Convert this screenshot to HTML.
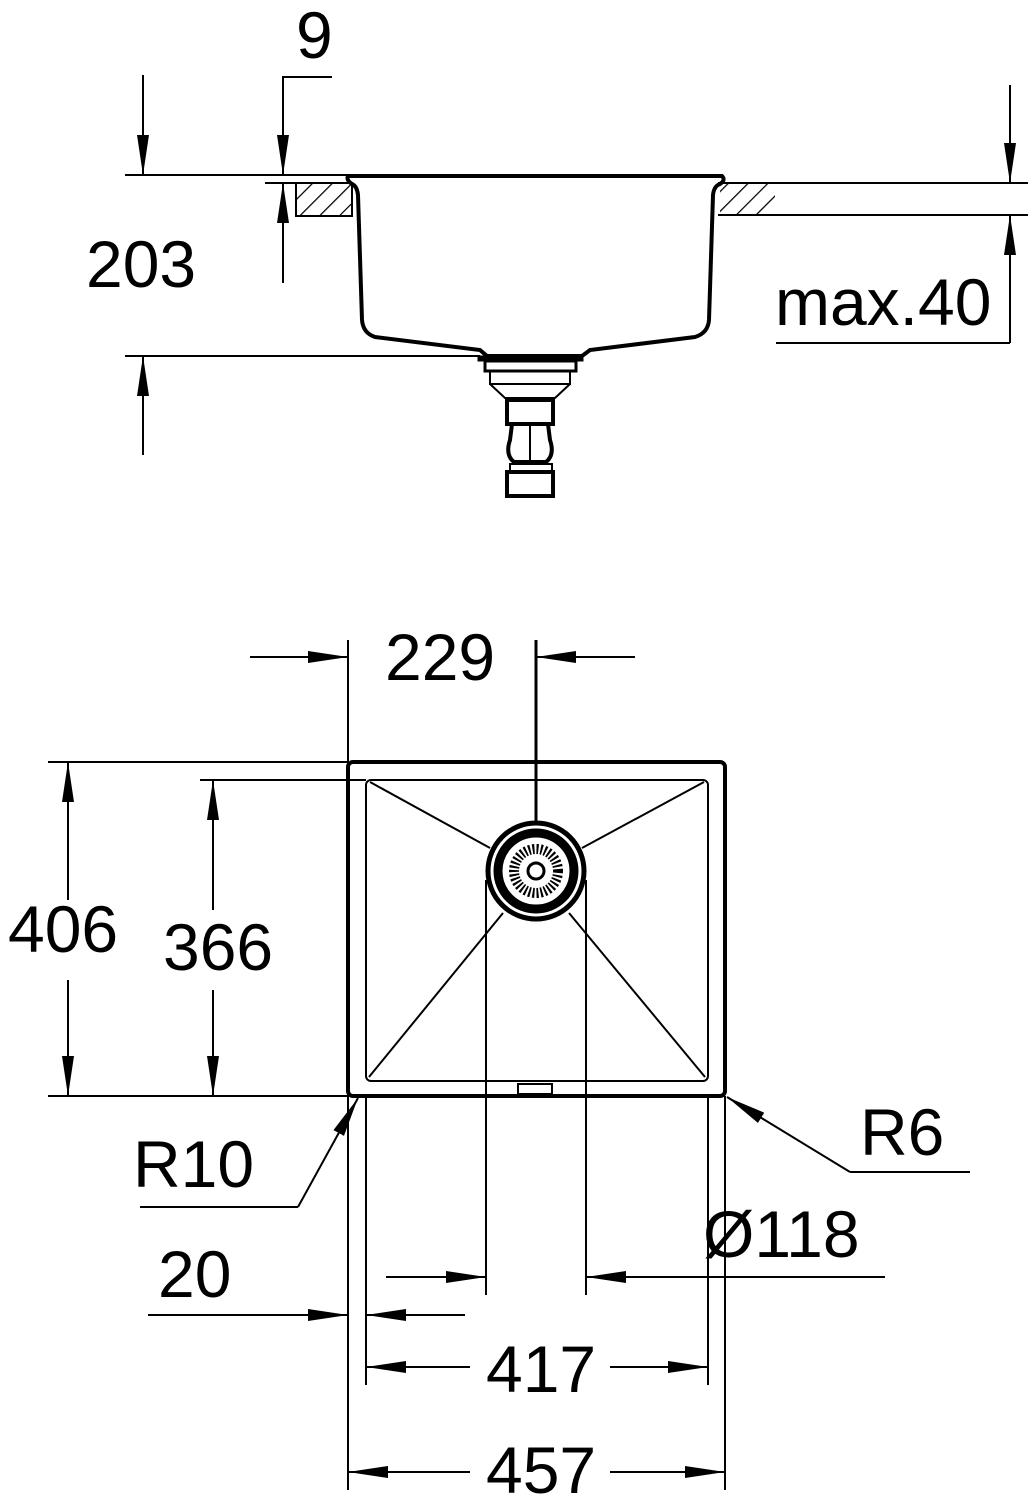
<!DOCTYPE html>
<html><head><meta charset="utf-8"><style>
html,body{margin:0;padding:0;background:#fff;}
svg{display:block;}
text{font-family:"Liberation Sans",sans-serif;font-size:66px;fill:#000;}
</style></head><body>
<svg width="1030" height="1500" viewBox="0 0 1030 1500" xmlns="http://www.w3.org/2000/svg">
<defs>
<marker id="a" markerWidth="40" markerHeight="14" refX="40" refY="7" orient="auto" markerUnits="userSpaceOnUse" viewBox="0 0 40 14">
<path d="M0,1 L40,7 L0,13 Z" fill="#000"/></marker>
<pattern id="h" width="14" height="14" patternUnits="userSpaceOnUse" patternTransform="rotate(45)">
<line x1="0" y1="0" x2="0" y2="14" stroke="#000" stroke-width="2.5"/></pattern>
</defs>
<g stroke="#000" fill="none" stroke-width="2">
<!-- TOP SECTION -->
<line x1="125" y1="175" x2="352" y2="175"/>
<line x1="265" y1="183" x2="352" y2="183"/>
<rect x="296" y="183" width="56" height="33" fill="url(#h)"/>
<line x1="296" y1="216" x2="352" y2="216"/>
<line x1="718" y1="183" x2="1028" y2="183"/>
<line x1="718" y1="215" x2="1028" y2="215"/>
<rect x="720" y="184" width="55" height="30" fill="url(#h)" stroke="none"/>
<line x1="143" y1="75" x2="143" y2="175" marker-end="url(#a)"/>
<line x1="143" y1="455" x2="143" y2="356" marker-end="url(#a)"/>
<line x1="125" y1="356" x2="480" y2="356"/>
<polyline points="332,77 283,77 283,175"/>
<line x1="283" y1="77" x2="283" y2="175" marker-end="url(#a)"/>
<line x1="283" y1="283" x2="283" y2="183" marker-end="url(#a)"/>
<line x1="1010" y1="85" x2="1010" y2="183" marker-end="url(#a)"/>
<line x1="1010" y1="343" x2="1010" y2="215" marker-end="url(#a)"/>
<line x1="776" y1="343" x2="1010" y2="343"/>
<!-- sink profile -->
<path d="M348,176 L722,176 Q726,180 720,184 Q714,186 713,195 L709,320 Q708,333 695,337 L590,350 L582,356 L487,356 L480,350 L375,337 Q363,333 362,320 L358,195 Q357,186 352,184 Q346,180 348,176 Z" stroke-width="4"/>
<!-- drain -->
<rect x="478" y="356" width="105" height="5" fill="#000" stroke-width="1"/>
<rect x="485" y="361" width="91" height="10" stroke-width="3"/>
<rect x="490" y="371" width="80" height="13" stroke-width="2"/>
<path d="M490,384 L505,398 L555,398 L570,384" stroke-width="2"/>
<rect x="507" y="400" width="46" height="24" stroke-width="4"/>
<path d="M512,424 L510,440 Q505,455 514,462 L546,462 Q555,455 550,440 L548,424" stroke-width="4"/>
<line x1="530" y1="424" x2="530" y2="462"/>
<rect x="510" y="464" width="42" height="8" stroke-width="2"/>
<rect x="507" y="472" width="46" height="24" stroke-width="4"/>

<!-- TOP VIEW -->
<rect x="348" y="762" width="377" height="334" rx="5" stroke-width="4"/>
<rect x="366" y="780" width="342" height="301" rx="5" stroke-width="2"/>
<line x1="370" y1="782" x2="490" y2="848"/>
<line x1="704" y1="782" x2="582" y2="848"/>
<line x1="369" y1="1077" x2="503" y2="913"/>
<line x1="705" y1="1077" x2="569" y2="913"/>
<rect x="518" y="1084" width="34" height="10" stroke-width="2"/>
<line x1="486" y1="880" x2="486" y2="1295"/>
<line x1="586" y1="880" x2="586" y2="1295"/>
<circle cx="536" cy="871" r="48" stroke-width="5"/>
<circle cx="536" cy="871" r="38" stroke-width="9"/>
<circle cx="536" cy="871" r="22" stroke-width="10" stroke-dasharray="2 2"/>
<circle cx="536" cy="871" r="8" stroke-width="3"/>
<line x1="536" y1="640" x2="536" y2="822" stroke-width="3"/>
<line x1="348" y1="640" x2="348" y2="1490"/>
<line x1="725" y1="1096" x2="725" y2="1490"/>
<line x1="366" y1="1096" x2="366" y2="1385"/>
<line x1="708" y1="1096" x2="708" y2="1385"/>
<line x1="250" y1="657" x2="348" y2="657" marker-end="url(#a)"/>
<line x1="635" y1="657" x2="536" y2="657" marker-end="url(#a)"/>
<line x1="48" y1="762" x2="348" y2="762"/>
<line x1="48" y1="1096" x2="348" y2="1096"/>
<line x1="200" y1="780" x2="366" y2="780"/>
<line x1="68" y1="900" x2="68" y2="762" marker-end="url(#a)"/>
<line x1="68" y1="980" x2="68" y2="1096" marker-end="url(#a)"/>
<line x1="213" y1="910" x2="213" y2="780" marker-end="url(#a)"/>
<line x1="213" y1="990" x2="213" y2="1096" marker-end="url(#a)"/>
<line x1="140" y1="1207" x2="298" y2="1207"/>
<line x1="298" y1="1207" x2="358" y2="1098" marker-end="url(#a)"/>
<line x1="970" y1="1172" x2="850" y2="1172"/>
<line x1="850" y1="1172" x2="727" y2="1097" marker-end="url(#a)"/>
<line x1="386" y1="1277" x2="486" y2="1277" marker-end="url(#a)"/>
<line x1="885" y1="1277" x2="586" y2="1277" marker-end="url(#a)"/>
<line x1="148" y1="1315" x2="348" y2="1315" marker-end="url(#a)"/>
<line x1="465" y1="1315" x2="366" y2="1315" marker-end="url(#a)"/>
<line x1="470" y1="1367" x2="366" y2="1367" marker-end="url(#a)"/>
<line x1="610" y1="1367" x2="708" y2="1367" marker-end="url(#a)"/>
<line x1="470" y1="1472" x2="348" y2="1472" marker-end="url(#a)"/>
<line x1="610" y1="1472" x2="725" y2="1472" marker-end="url(#a)"/>
</g>
<text x="296" y="58">9</text>
<text x="86" y="287">203</text>
<text x="775" y="325">max.40</text>
<text x="385" y="680">229</text>
<text x="8" y="952">406</text>
<text x="163" y="970">366</text>
<text x="133" y="1187">R10</text>
<text x="860" y="1155">R6</text>
<text x="703" y="1257">Ø118</text>
<text x="158" y="1297">20</text>
<text x="486" y="1392">417</text>
<text x="486" y="1493">457</text>
</svg>
</body></html>
